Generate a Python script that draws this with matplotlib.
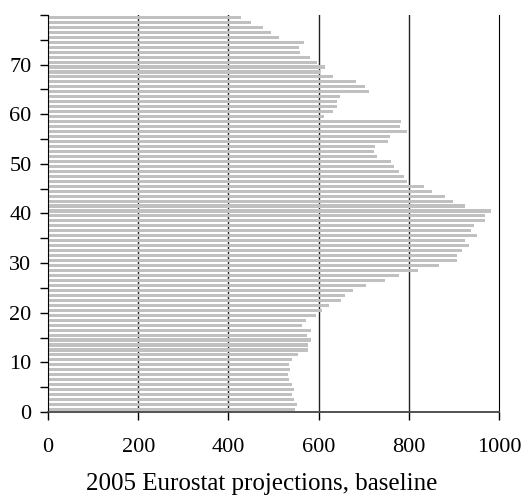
import numpy as np
import matplotlib
matplotlib.use("Agg")
import matplotlib.pyplot as plt

plt.rcParams['font.family'] = ['Liberation Serif', 'DejaVu Serif']

# population by single year of age, 0 .. 79 (thousands)
ages = np.arange(80)
values = [548, 551, 546, 540, 546, 540, 535, 533, 537, 535,
          542, 555, 577, 577, 584, 575, 584, 564, 573, 595,
          608, 624, 650, 659, 677, 706, 748, 779, 821, 868,
          908, 908, 919, 934, 925, 952, 939, 945, 970, 970,
          983, 925, 897, 881, 852, 834, 797, 790, 779, 768,
          761, 730, 723, 726, 755, 759, 795, 781, 783, 613,
          633, 641, 641, 648, 712, 704, 684, 633, 602, 615,
          597, 582, 559, 557, 568, 513, 495, 477, 449, 427]
xticks = [0, 200, 400, 600, 800, 1000]
yticks = list(range(0, 85, 5))
ylabels = [str(t) if t % 10 == 0 and t <= 70 else '' for t in yticks]

fig = plt.figure(figsize=(5.23, 4.97), dpi=100)
ax = fig.add_axes([0.092, 0.171, 0.862, 0.799])

for x in xticks[1:-1]:
    ax.axvline(x, color='#222222', lw=1.0, zorder=1)
ax.barh(ages + 0.5, values, height=0.62, color='#c0c0c0', zorder=2)

ax.set_xlim(0, 1000)
ax.set_ylim(0, 80)
ax.set_xticks(xticks)
ax.set_yticks(yticks)
ax.set_yticklabels(ylabels)
ax.tick_params(axis='both', direction='out', length=6, width=1, labelsize=16)
ax.tick_params(axis='x', pad=13)
ax.tick_params(axis='y', pad=6)

ax.spines['top'].set_visible(False)
ax.spines['right'].set_color('black')
ax.spines['left'].set_color('black')
ax.spines['bottom'].set_color('#444444')
ax.spines['bottom'].set_linewidth(1.3)

# caption centred on the figure, not the axes
fig.text(0.5, 0.026, '2005 Eurostat projections, baseline', fontsize=18,
         ha='center', va='center')

fig.savefig('out.png', dpi=100)
